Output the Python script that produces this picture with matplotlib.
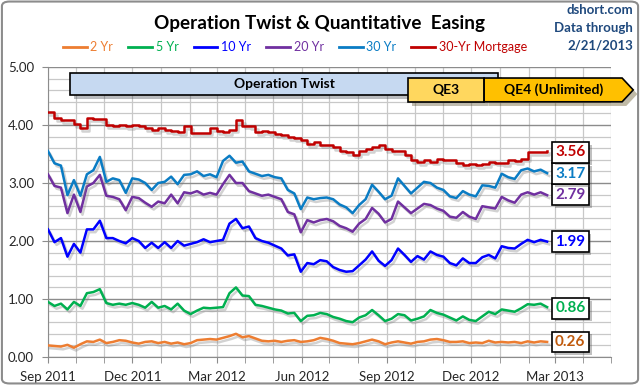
import pandas as pd
import numpy as np
import matplotlib
matplotlib.use('Agg')
import matplotlib.pyplot as plt
import matplotlib.dates as mdates
import matplotlib.patheffects as pe
from matplotlib.patches import Rectangle, Polygon, FancyBboxPatch
from matplotlib.lines import Line2D

plt.rcParams['font.family'] = ['Lato', 'DejaVu Sans']

# weekly readings, Sep 1 2011 .. Feb 21 2013
weeks = pd.date_range('2011-09-01', periods=78, freq='7D')

yr2 = [0.20, 0.19, 0.18, 0.21, 0.16, 0.22, 0.27, 0.26, 0.30, 0.24,
       0.26, 0.29, 0.28, 0.25, 0.23, 0.26, 0.27, 0.24, 0.26, 0.23,
       0.25, 0.22, 0.24, 0.29, 0.30, 0.31, 0.30, 0.33, 0.36, 0.40,
       0.34, 0.36, 0.32, 0.28, 0.27, 0.28, 0.26, 0.28, 0.29, 0.26,
       0.27, 0.29, 0.33, 0.31, 0.28, 0.24, 0.23, 0.22, 0.24, 0.27,
       0.30, 0.27, 0.22, 0.25, 0.27, 0.25, 0.23, 0.26, 0.27, 0.30,
       0.31, 0.29, 0.26, 0.26, 0.27, 0.24, 0.25, 0.24, 0.28, 0.25,
       0.26, 0.25, 0.26, 0.24, 0.27, 0.25, 0.27, 0.26]

yr5 = [0.95, 0.88, 0.92, 0.82, 0.95, 0.88, 1.10, 1.12, 1.17, 0.93,
       0.90, 0.92, 0.90, 0.93, 0.90, 0.85, 0.95, 0.85, 0.88, 0.82,
       0.92, 0.80, 0.74, 0.80, 0.85, 0.84, 0.85, 0.86, 1.10, 1.20,
       1.06, 1.05, 0.90, 0.88, 0.85, 0.82, 0.80, 0.75, 0.76, 0.62,
       0.71, 0.72, 0.76, 0.74, 0.69, 0.66, 0.62, 0.60, 0.68, 0.72,
       0.81, 0.72, 0.62, 0.66, 0.74, 0.72, 0.63, 0.66, 0.70, 0.81,
       0.76, 0.73, 0.68, 0.63, 0.70, 0.64, 0.62, 0.70, 0.78, 0.74,
       0.82, 0.80, 0.78, 0.84, 0.91, 0.90, 0.92, 0.86]

yr10 = [2.20, 1.98, 2.05, 1.73, 1.95, 1.80, 2.20, 2.20, 2.35, 2.05,
        2.05, 2.00, 1.96, 2.05, 2.00, 1.88, 1.97, 1.88, 1.98, 1.88,
        2.00, 1.92, 1.95, 1.98, 2.03, 1.98, 2.00, 2.02, 2.30, 2.38,
        2.22, 2.25, 2.05, 2.00, 1.97, 1.92, 1.87, 1.75, 1.77, 1.47,
        1.62, 1.60, 1.67, 1.65, 1.55, 1.50, 1.47, 1.48, 1.58, 1.68,
        1.82, 1.66, 1.57, 1.67, 1.87, 1.76, 1.64, 1.74, 1.68, 1.82,
        1.76, 1.73, 1.62, 1.58, 1.70, 1.62, 1.62, 1.72, 1.76, 1.70,
        1.91, 1.88, 1.87, 1.95, 2.02, 1.98, 2.02, 1.99]

yr20 = [3.15, 2.95, 2.92, 2.48, 2.80, 2.50, 2.94, 3.00, 3.14, 2.78,
        2.76, 2.72, 2.53, 2.76, 2.74, 2.66, 2.59, 2.68, 2.65, 2.80,
        2.65, 2.84, 2.82, 2.86, 2.80, 2.83, 2.80, 2.98, 3.14, 3.00,
        3.00, 2.86, 2.82, 2.78, 2.80, 2.76, 2.72, 2.50, 2.46, 2.15,
        2.36, 2.32, 2.36, 2.38, 2.34, 2.26, 2.22, 2.16, 2.30, 2.38,
        2.57, 2.47, 2.32, 2.38, 2.68, 2.58, 2.48, 2.56, 2.64, 2.62,
        2.56, 2.52, 2.42, 2.40, 2.50, 2.42, 2.38, 2.60, 2.58, 2.56,
        2.76, 2.70, 2.66, 2.80, 2.84, 2.80, 2.84, 2.79]

yr30 = [3.55, 3.34, 3.30, 2.79, 3.05, 2.78, 3.15, 3.22, 3.45, 3.02,
        3.08, 3.05, 2.83, 3.08, 3.06, 3.00, 2.88, 3.00, 3.02, 3.11,
        2.98, 3.14, 3.15, 3.20, 3.12, 3.15, 3.10, 3.38, 3.47, 3.35,
        3.37, 3.20, 3.16, 3.12, 3.14, 3.10, 3.08, 2.88, 2.82, 2.55,
        2.75, 2.72, 2.74, 2.75, 2.72, 2.63, 2.58, 2.48, 2.62, 2.72,
        2.97, 2.85, 2.72, 2.78, 3.08, 2.95, 2.82, 2.92, 3.02, 3.00,
        2.92, 2.88, 2.77, 2.74, 2.86, 2.80, 2.77, 2.96, 2.95, 2.92,
        3.16, 3.10, 3.07, 3.22, 3.25, 3.20, 3.23, 3.17]

mortgage = [4.22, 4.12, 4.09, 4.09, 4.01, 3.94, 4.12, 4.11, 4.10, 4.00,
            3.99, 4.00, 3.98, 4.00, 3.99, 3.94, 3.91, 3.95, 3.91, 3.89,
            3.88, 3.98, 3.87, 3.87, 3.87, 3.95, 3.90, 3.88, 3.92, 4.08,
            3.99, 3.98, 3.88, 3.90, 3.88, 3.84, 3.83, 3.79, 3.78, 3.75,
            3.67, 3.71, 3.66, 3.66, 3.62, 3.56, 3.53, 3.49, 3.55, 3.59,
            3.62, 3.66, 3.59, 3.55, 3.55, 3.49, 3.40, 3.36, 3.39, 3.37,
            3.41, 3.39, 3.40, 3.34, 3.31, 3.32, 3.31, 3.32, 3.37, 3.35,
            3.34, 3.40, 3.38, 3.42, 3.53, 3.53, 3.53, 3.56]

names = ['2 Yr', '5 Yr', '10 Yr', '20 Yr', '30 Yr', '30-Yr Mortgage']
series = [yr2, yr5, yr10, yr20, yr30, mortgage]
colors = ['#ED7D31', '#00B050', '#0000FF', '#7030A0', '#0A7CC4', '#C00000']
label_colors = ['#C05A0C', '#00B050', '#0000FF', '#7030A0', '#0A7CC4', '#C00000']
last_vals = ['0.26', '0.86', '1.99', '2.79', '3.17', '3.56']
label_y = [0.26, 0.84, 1.99, 2.80, 3.16, 3.53]

fig = plt.figure(figsize=(6.4, 3.85), dpi=100)
ax = fig.add_axes([48/640, 1-357/385, (611-48)/640, (357-67)/385])

shadow = [pe.SimpleLineShadow(offset=(1.5, -2), shadow_color='#808080', alpha=0.35),
          pe.Normal()]
for vals, c, name in zip(series, colors, names):
    ds = 'steps-post' if name == '30-Yr Mortgage' else 'default'
    ax.plot(weeks, vals, color=c, lw=1.8, drawstyle=ds, path_effects=shadow, zorder=3)

ax.set_ylim(0, 5)
ax.set_xlim(pd.Timestamp('2011-09-01'), pd.Timestamp('2013-05-01'))
ax.set_yticks(np.arange(0, 5.01, 1.0))
ax.set_yticks(np.arange(0, 5.01, 0.2), minor=True)
ax.yaxis.set_major_formatter(plt.FormatStrFormatter('%.2f'))
ax.xaxis.set_major_locator(mdates.MonthLocator(bymonth=[3, 6, 9, 12]))
ax.xaxis.set_minor_locator(mdates.MonthLocator())
ax.xaxis.set_major_formatter(mdates.DateFormatter('%b %Y'))
ax.grid(which='major', axis='y', color='#8C8C8C', lw=1.0)
ax.grid(which='minor', axis='y', color='#C8C8C8', lw=0.9)
ax.grid(which='both', axis='x', color='#C8C8C8', lw=0.9)
ax.set_axisbelow(True)
for s in ['top', 'right']:
    ax.spines[s].set_visible(False)
for s in ['left', 'bottom']:
    ax.spines[s].set_color('#8C8C8C')
ax.tick_params(axis='both', which='both', colors='#8C8C8C', labelcolor='#262626', labelsize=9.5)
ax.tick_params(axis='x', which='both', length=4, pad=6)
ax.tick_params(axis='y', which='major', length=4, pad=6)
ax.tick_params(axis='y', which='minor', length=0)

# last value boxes
for txt, yv, c in zip(last_vals, label_y, label_colors):
    t = ax.text(pd.Timestamp('2013-03-18'), yv, txt, color=c, fontsize=11, fontweight='bold',
                ha='center', va='center', zorder=5,
                bbox=dict(boxstyle='square,pad=0.22', fc='white', ec='black', lw=1.2))
    t.get_bbox_patch().set_path_effects([pe.withSimplePatchShadow(offset=(2, -2), alpha=0.35)])

# program bars
d = mdates.date2num
box_shadow = [pe.withSimplePatchShadow(offset=(3, -3), alpha=0.35)]
tw_l, tw_r = d(pd.Timestamp('2011-09-25')), d(pd.Timestamp('2012-12-30'))
twist = Rectangle((tw_l, 4.52), tw_r - tw_l, 0.38,
                  fc='#C6D9F1', ec='black', lw=1.2, clip_on=False, zorder=6, path_effects=box_shadow)
ax.add_patch(twist)
ax.text((tw_l + tw_r) / 2, 4.71, 'Operation Twist', ha='center', va='center',
        fontsize=10, fontweight='bold', zorder=7)

qe3_l, qe3_r = d(pd.Timestamp('2012-09-24')), d(pd.Timestamp('2012-12-15'))
qe3 = Rectangle((qe3_l, 4.40), qe3_r - qe3_l, 0.41, fc='#FFD75E', ec='black', lw=1.2,
                clip_on=False, zorder=8, path_effects=box_shadow)
ax.add_patch(qe3)
ax.text((qe3_l + qe3_r) / 2, 4.605, 'QE3', ha='center', va='center', fontsize=10,
        fontweight='bold', zorder=9)

qe4_r, qe4_tip = d(pd.Timestamp('2013-05-13')), d(pd.Timestamp('2013-05-25'))
qe4 = Polygon([(qe3_r, 4.40), (qe4_r, 4.40), (qe4_tip, 4.605), (qe4_r, 4.81), (qe3_r, 4.81)],
              closed=True, fc='#FFC000', ec='black', lw=1.2, clip_on=False, zorder=8,
              path_effects=box_shadow)
ax.add_patch(qe4)
ax.text((qe3_r + qe4_r) / 2, 4.605, 'QE4 (Unlimited)', ha='center', va='center', fontsize=10,
        fontweight='bold', zorder=9)

# titles and legend
fig.text(320/640, 1-23/385, 'Operation Twist & Quantitative  Easing', ha='center', va='center',
         fontsize=13.6, fontweight='bold')
fig.text(633/640, 1-4/385, 'dshort.com\nData through\n2/21/2013', ha='right', va='top',
         color='#1F497D', fontweight='bold', fontsize=9.5, linespacing=1.55)

handles = [Line2D([], [], color=c, lw=2) for c in colors]
fig.legend(handles, names, loc='center', bbox_to_anchor=(295/640, 1-47/385), ncol=6,
           frameon=False, labelcolor=colors, handlelength=1.9, handletextpad=0.3,
           columnspacing=1.2, fontsize=9)

fig.patches.append(FancyBboxPatch((0.003, 0.004), 0.994, 0.992,
                                  boxstyle='round,pad=0,rounding_size=0.012',
                                  transform=fig.transFigure, fill=False, ec='#8C8C8C', lw=1.5))

fig.savefig('out.png', dpi=100)
